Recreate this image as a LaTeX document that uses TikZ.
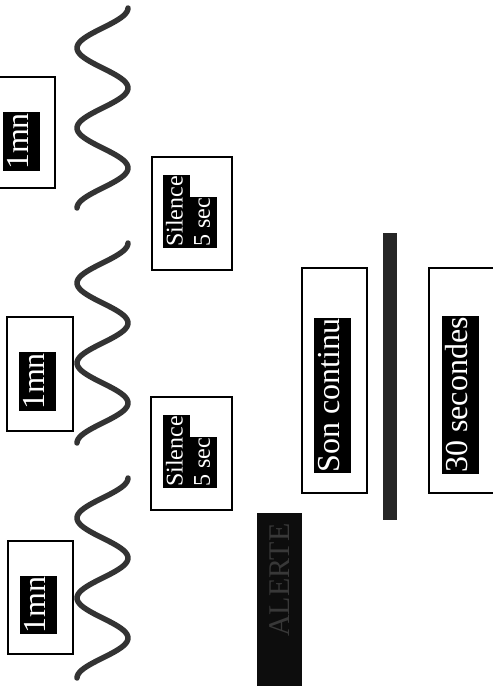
\documentclass[tikz,border=0pt]{standalone}
\usepackage{fontspec}
\setmainfont{Liberation Serif}
\begin{document}
\begin{tikzpicture}[x=1pt,y=-1pt,
        wave/.style={line width=5.5pt,line cap=round,line join=round,draw=black!80},
        frame/.style={line width=2pt},
        tag/.style={fill=black,text=white,rotate=90,inner xsep=1pt,inner ysep=3pt,text height=23pt,text depth=8pt,font=\fontsize{32}{32}\selectfont},
        smalltag/.style={tag,inner ysep=1.5pt,text height=18pt,text depth=6pt,font=\fontsize{24}{24}\selectfont}]
        \useasboundingbox (0,0) rectangle (493,686);
        \foreach \y in {8,243,478}
            \draw[wave] plot[domain=0:200,samples=101,smooth] ({102.5+25.5*cos(\x*4.5)},{\y+\x});
        \draw[frame] (-10,77) rectangle (55,188);
        \draw[frame] (7,317) rectangle (73,431);
        \draw[frame] (8,541) rectangle (73,654);
        \node[tag] (mnA) at (21,141.5) {1mn};
        \node[tag] (mnB) at (37.5,381.5) {1mn};
        \node[tag] (mnC) at (38,605) {1mn};
        \draw[frame] (152,157) rectangle (232,270);
        \draw[frame] (151,397) rectangle (232,510);
        \node[smalltag,anchor=west] (silA) at (176.5,248) {Silence};
        \node[smalltag,anchor=north west] (secA) at (silA.south west) {5 sec};
        \node[smalltag,anchor=west] (silB) at (176.5,488) {Silence};
        \node[smalltag,anchor=north west] (secB) at (silB.south west) {5 sec};
        \draw[frame] (302,268) rectangle (367,493);
        \draw[frame] (429,268) rectangle (500,493);
        \node[tag] (son) at (332,395.5) {Son continu};
        \node[tag] (sec) at (460,395) {30 secondes};
        \fill[black!85] (383,233) rectangle (397,520);
        % bandeau sombre
        \fill[black!95] (257,513) rectangle (302,690);
        \node[rotate=90,anchor=east,text=black!78,font=\fontsize{30}{30}\selectfont] (alerte) at (279.5,520) {ALERTE};
\end{tikzpicture}
\end{document}
